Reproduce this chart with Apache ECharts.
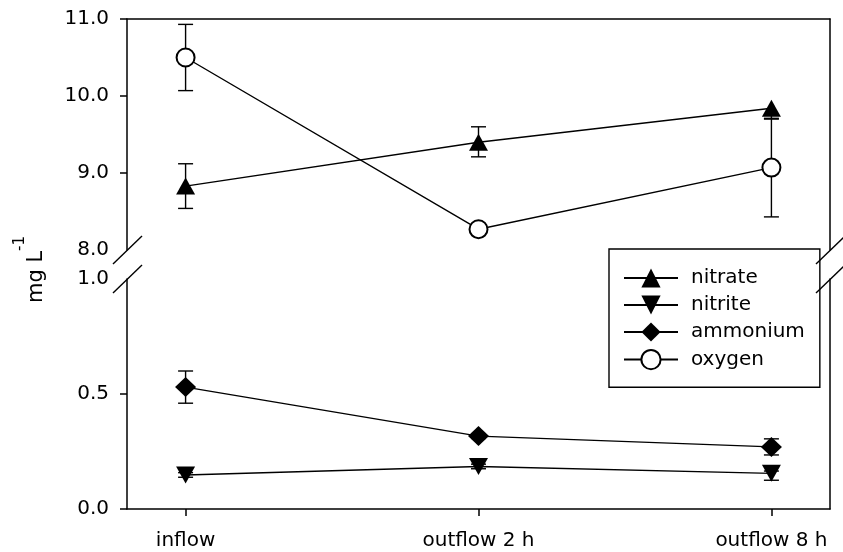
<!DOCTYPE html>
<html>
<head>
<meta charset="utf-8">
<script src="https://cdn.jsdelivr.net/npm/echarts@6/dist/echarts.min.js"></script>
<style>
  html, body { margin: 0; padding: 0; background: #fff; }
  #chart { width: 843px; height: 552px; }
</style>
</head>
<body>
<div id="chart"></div>
<script>
// Sampling points along the flow path
const categories = ['inflow', 'outflow 2 h', 'outflow 8 h'];

// Upper panel (8–11 mg/L): means with lower / upper error extents
const nitrate = [8.83, 9.40, 9.84];
const nitrateErrDown = [0.29, 0.19, 0.14];
const nitrateErrUp = [0.29, 0.20, 0.0];
const oxygen = [10.50, 8.27, 9.07];
const oxygenErrDown = [0.43, 0.05, 0.64];
const oxygenErrUp = [0.43, 0.05, 0.64];

// Lower panel (0–1 mg/L)
const ammonium = [0.53, 0.317, 0.27];
const ammoniumErrDown = [0.07, 0.01, 0.035];
const ammoniumErrUp = [0.07, 0.01, 0.035];
const nitrite = [0.148, 0.185, 0.155];
const nitriteErrDown = [0.01, 0.01, 0.03];
const nitriteErrUp = [0.01, 0.01, 0.01];

// Tick labels of the broken y axis
const upperTicks = [8, 9, 10, 11];
const lowerTicks = [0, 0.5, 1];

const FONT = 'DejaVu Sans';
const INK = '#000';
const AXIS_W = 1.5;
const LINE_W = 1.4;
const catIdx = categories.map((_, i) => i);

const pairs = vals => vals.map((v, i) => [i, v]);
const errPairs = (vals, down, up) => vals.map((v, i) => [i, v - down[i], v + up[i], down[i], up[i]]);

function errorBars(xAxisIndex, yAxisIndex, vals, down, up) {
  return {
    type: 'custom',
    xAxisIndex, yAxisIndex,
    z: 1,
    silent: true,
    data: errPairs(vals, down, up),
    encode: { x: 0, y: [1, 2] },
    renderItem(params, api) {
      const x = api.value(0);
      const lo = api.coord([x, api.value(1)]);
      const hi = api.coord([x, api.value(2)]);
      const cap = 7.5;
      const style = { stroke: INK, lineWidth: LINE_W };
      const parts = [{ type: 'line', shape: { x1: lo[0], y1: lo[1], x2: hi[0], y2: hi[1] }, style }];
      if (api.value(3) > 0) parts.push({ type: 'line', shape: { x1: lo[0] - cap, y1: lo[1], x2: lo[0] + cap, y2: lo[1] }, style });
      if (api.value(4) > 0) parts.push({ type: 'line', shape: { x1: hi[0] - cap, y1: hi[1], x2: hi[0] + cap, y2: hi[1] }, style });
      return { type: 'group', children: parts };
    }
  };
}

function lineSeries(name, xAxisIndex, yAxisIndex, vals, symbol, size, extra) {
  return Object.assign({
    name, type: 'line',
    xAxisIndex, yAxisIndex,
    z: 3,
    data: pairs(vals),
    symbol, symbolSize: size,
    showAllSymbol: true,
    itemStyle: { color: INK, borderColor: INK, borderWidth: 0 },
    lineStyle: { color: INK, width: LINE_W }
  }, extra || {});
}

const axisLine = { show: true, onZero: false, lineStyle: { color: INK, width: AXIS_W } };
const labelStyle = { color: INK, fontSize: 20, fontFamily: FONT };

const chart = echarts.init(document.getElementById('chart'), null, { renderer: 'canvas' });

chart.setOption({
  animation: false,
  backgroundColor: '#fff',
  grid: [
    { left: 127, right: 13, top: 19, height: 231 },
    { left: 127, right: 13, top: 279, height: 230 }
  ],
  xAxis: [
    {
      gridIndex: 0, type: 'value', min: -0.2, max: 2.2, position: 'top',
      axisLine, axisTick: { show: false }, axisLabel: { show: false }, splitLine: { show: false }
    },
    {
      gridIndex: 1, type: 'value', min: -0.2, max: 2.2, position: 'bottom',
      axisLine,
      axisTick: { show: true, inside: false, length: 7, customValues: catIdx, lineStyle: { color: INK, width: AXIS_W } },
      axisLabel: Object.assign({ customValues: catIdx, margin: 22, formatter: v => categories[Math.round(v)] }, labelStyle),
      splitLine: { show: false }
    }
  ],
  yAxis: [
    {
      gridIndex: 0, type: 'value', min: 8, max: 11, interval: 1, position: 'left',
      axisLine,
      axisTick: { show: true, length: 7, customValues: [9, 10, 11], lineStyle: { color: INK, width: AXIS_W } },
      axisLabel: Object.assign({ customValues: upperTicks, margin: 18, formatter: v => v.toFixed(1) }, labelStyle),
      splitLine: { show: false }
    },
    {
      gridIndex: 0, type: 'value', min: 8, max: 11, position: 'right',
      axisLine, axisTick: { show: false }, axisLabel: { show: false }, splitLine: { show: false }
    },
    {
      gridIndex: 1, type: 'value', min: 0, max: 1, interval: 0.5, position: 'left',
      axisLine,
      axisTick: { show: true, length: 7, customValues: [0, 0.5], lineStyle: { color: INK, width: AXIS_W } },
      axisLabel: Object.assign({ customValues: lowerTicks, margin: 18, formatter: v => v.toFixed(1) }, labelStyle),
      splitLine: { show: false }
    },
    {
      gridIndex: 1, type: 'value', min: 0, max: 1, position: 'right',
      axisLine, axisTick: { show: false }, axisLabel: { show: false }, splitLine: { show: false }
    }
  ],
  legend: {
    orient: 'vertical',
    left: 609, top: 249,
    padding: [19, 15, 17, 14],
    itemWidth: 54, itemHeight: 24, itemGap: 7,
    borderColor: INK, borderWidth: 1.4,
    backgroundColor: '#fff',
    textStyle: Object.assign({ padding: [0, 0, 0, 8] }, labelStyle),
    data: ['nitrate', 'nitrite', 'ammonium', 'oxygen']
  },
  series: [
    errorBars(0, 0, nitrate, nitrateErrDown, nitrateErrUp),
    errorBars(0, 0, oxygen, oxygenErrDown, oxygenErrUp),
    errorBars(1, 2, ammonium, ammoniumErrDown, ammoniumErrUp),
    errorBars(1, 2, nitrite, nitriteErrDown, nitriteErrUp),
    lineSeries('nitrate', 0, 0, nitrate, 'triangle', [19, 17]),
    lineSeries('nitrite', 1, 2, nitrite, 'triangle', [19, 17], { symbolRotate: 180 }),
    lineSeries('ammonium', 1, 2, ammonium, 'diamond', [21, 20]),
    lineSeries('oxygen', 0, 0, oxygen, 'emptyCircle', 18, {
      itemStyle: { color: INK, borderColor: INK, borderWidth: LINE_W }
    })
  ]
});

// Axis-break slashes and the rotated y-axis title, placed from the axis scales
const breakEnds = [
  chart.convertToPixel({ xAxisIndex: 0, yAxisIndex: 0 }, [-0.2, 8]),
  chart.convertToPixel({ xAxisIndex: 0, yAxisIndex: 0 }, [2.2, 8]),
  chart.convertToPixel({ xAxisIndex: 1, yAxisIndex: 2 }, [-0.2, 1]),
  chart.convertToPixel({ xAxisIndex: 1, yAxisIndex: 2 }, [2.2, 1])
];
const slashes = breakEnds.map(p => ({
  type: 'line',
  z: 10,
  shape: { x1: p[0] - 14, y1: p[1] + 14, x2: p[0] + 15, y2: p[1] - 14 },
  style: { stroke: INK, lineWidth: LINE_W }
}));
const midY = (breakEnds[0][1] + breakEnds[2][1]) / 2 + 5;

chart.setOption({
  graphic: slashes.concat([{
    type: 'text',
    x: 30, y: midY,
    rotation: Math.PI / 2,
    style: {
      text: '{a|mg L}{b|-1}',
      align: 'center',
      verticalAlign: 'middle',
      fill: INK,
      rich: {
        a: { fontSize: 21, fontFamily: FONT, lineHeight: 34, verticalAlign: 'bottom', fill: INK },
        b: { fontSize: 15, fontFamily: FONT, lineHeight: 15, verticalAlign: 'top', fill: INK }
      }
    }
  }])
});
</script>
</body>
</html>
